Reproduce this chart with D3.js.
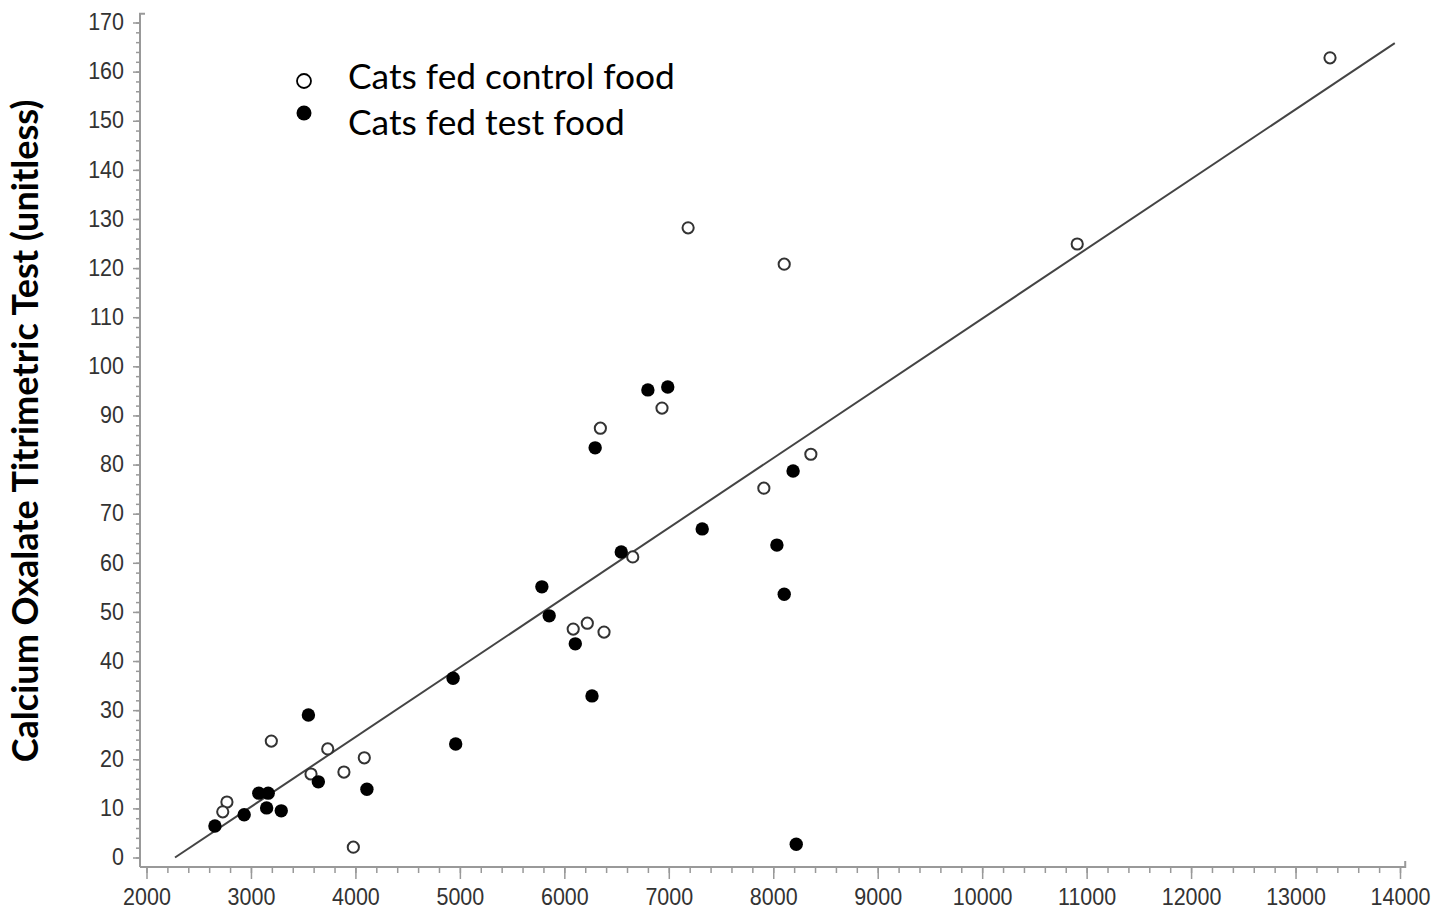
<!DOCTYPE html>
<html>
<head>
<meta charset="utf-8">
<script src="https://cdn.jsdelivr.net/npm/d3@7"></script>
<style>
  body { margin: 0; background: #fff; }
  svg { display: block; }
</style>
</head>
<body>
<div id="chart"></div>
<script>
// data
var controlX = [13330, 10910, 7185, 8105, 6935, 6345, 8360, 7910, 6655, 6085, 6220, 6380,
                3195, 3735, 4085, 3575, 3890, 2770, 2730, 3980];
var controlY = [162.8, 124.9, 128.2, 120.8, 91.5, 87.4, 82.1, 75.2, 61.2, 46.5, 47.7, 45.9,
                23.7, 22.1, 20.3, 17.0, 17.4, 11.3, 9.3, 2.1];
var testX = [6800, 6990, 6295, 8190, 7320, 8035, 6545, 8105, 5785, 5855, 6105, 6265,
             4935, 4960, 3550, 3645, 4110, 3075, 3165, 3150, 3290, 2935, 2655, 8220];
var testY = [95.2, 95.8, 83.4, 78.7, 66.9, 63.6, 62.2, 53.6, 55.1, 49.2, 43.5, 32.9,
             36.5, 23.1, 29.0, 15.4, 13.9, 13.1, 13.1, 10.1, 9.5, 8.7, 6.4, 2.7];
var fitX = [2273, 13950];
var fitY = [0, 165.8];
var xTicks = d3.range(2000, 14001, 1000);
var yTicks = d3.range(0, 171, 10);
var legendLabels = ["Cats fed control food", "Cats fed test food"];
var yTitle = "Calcium Oxalate Titrimetric Test (unitless)";

var width = 1446, height = 913;
var axisX = 140, axisY = 867;

var svg = d3.select("#chart").append("svg")
    .attr("width", width)
    .attr("height", height);

var x = d3.scaleLinear().domain([2000, 14000]).range([146.5, 1400]);
var y = d3.scaleLinear().domain([0, 170]).range([857.5, 22.5]);

// shrink/grow a text so it fills a given length
function fitText(sel, target) {
    var w = sel.node().getComputedTextLength();
    var fs = parseFloat(sel.attr("font-size"));
    sel.attr("font-size", fs * target / w);
}

// minor ticks
svg.append("g")
    .attr("transform", "translate(0," + axisY + ")")
    .call(d3.axisBottom(x).tickValues(d3.range(2000, 14001, 200)).tickSize(6).tickFormat(""))
    .call(g => g.select(".domain").remove())
    .call(g => g.selectAll("line").attr("stroke", "#999").attr("stroke-width", 1.5));
svg.append("g")
    .attr("transform", "translate(" + axisX + ",0)")
    .call(d3.axisLeft(y).tickValues(d3.range(0, 171, 2)).tickSize(4).tickFormat(""))
    .call(g => g.select(".domain").remove())
    .call(g => g.selectAll("line").attr("stroke", "#999").attr("stroke-width", 1.5));

// major ticks + labels
var xAxis = svg.append("g")
    .attr("transform", "translate(0," + axisY + ")")
    .call(d3.axisBottom(x).tickValues(xTicks).tickSize(12).tickPadding(7).tickFormat(d3.format("d")));
var yAxis = svg.append("g")
    .attr("transform", "translate(" + axisX + ",0)")
    .call(d3.axisLeft(y).tickValues(yTicks).tickSize(7).tickPadding(9).tickFormat(d3.format("d")));

[xAxis, yAxis].forEach(function(g) {
    g.attr("font-family", null);
    g.select(".domain").remove();
    g.selectAll("line").attr("stroke", "#999").attr("stroke-width", 1.5);
    g.selectAll("text")
        .style("font-family", "'Liberation Sans', Arial, sans-serif")
        .attr("font-size", 21.5)
        .attr("fill", "#333");
});
xAxis.selectAll("text").attr("transform", "scale(1,1.12)");
yAxis.selectAll("text").attr("transform", "scale(1,1.12)").attr("dy", "0.3em");

// axis lines, slightly longer than the data range
svg.append("path")
    .attr("d", "M" + axisX + "," + axisY + "H" + x(14050) + "V" + (axisY - 6))
    .attr("fill", "none").attr("stroke", "#999").attr("stroke-width", 2);
svg.append("path")
    .attr("d", "M" + axisX + "," + axisY + "V" + y(171.8) + "H" + (axisX + 5))
    .attr("fill", "none").attr("stroke", "#999").attr("stroke-width", 2);

// regression line
svg.append("line")
    .attr("x1", x(fitX[0])).attr("y1", y(fitY[0]))
    .attr("x2", x(fitX[1])).attr("y2", y(fitY[1]))
    .attr("stroke", "#444")
    .attr("stroke-width", 2);

// points
svg.append("g").selectAll("circle")
    .data(d3.zip(controlX, controlY))
    .enter()
    .append("circle")
        .attr("cx", d => x(d[0]))
        .attr("cy", d => y(d[1]))
        .attr("r", 5.6)
        .attr("fill", "#fff")
        .attr("stroke", "#333")
        .attr("stroke-width", 2);

svg.append("g").selectAll("circle")
    .data(d3.zip(testX, testY))
    .enter()
    .append("circle")
        .attr("cx", d => x(d[0]))
        .attr("cy", d => y(d[1]))
        .attr("r", 6.7)
        .attr("fill", "#000");

// legend
var legend = svg.append("g");
legend.append("circle")
    .attr("cx", 304).attr("cy", 81).attr("r", 7)
    .attr("fill", "#fff").attr("stroke", "#000").attr("stroke-width", 1.8);
legend.append("circle")
    .attr("cx", 304).attr("cy", 113).attr("r", 7.5)
    .attr("fill", "#000");
legend.selectAll("text")
    .data(legendLabels)
    .enter()
    .append("text")
        .attr("x", 348)
        .attr("y", (d, i) => 89 + i * 46)
        .attr("font-family", "Lato, 'Open Sans', sans-serif")
        .attr("font-size", 34)
        .attr("fill", "#000")
        .text(d => d);
fitText(legend.select("text"), 327);
legend.selectAll("text").attr("font-size", legend.select("text").attr("font-size"));

// y axis title
var title = svg.append("text")
    .attr("transform", "translate(38,431) rotate(-90)")
    .attr("text-anchor", "middle")
    .attr("font-family", "Lato, 'Open Sans', sans-serif")
    .attr("font-weight", "bold")
    .attr("font-size", 34)
    .attr("fill", "#000")
    .text(yTitle);
fitText(title, 663);
</script>
</body>
</html>
